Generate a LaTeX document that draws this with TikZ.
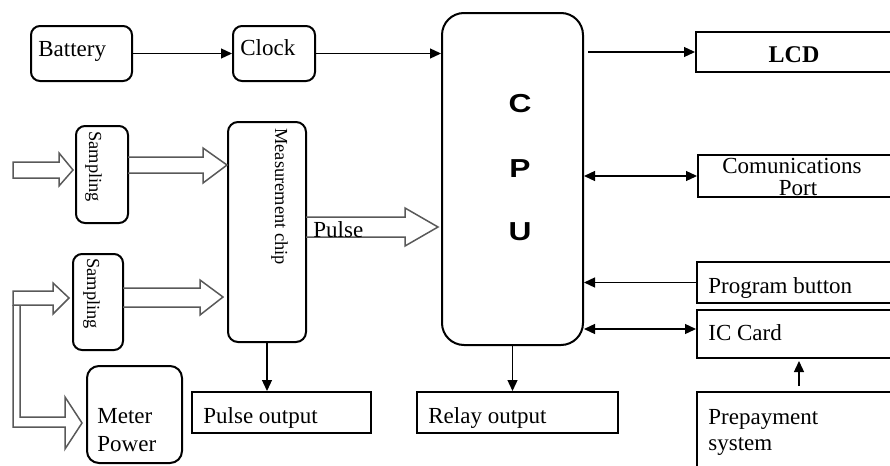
\documentclass[tikz,border=0pt]{standalone}
\usepackage{fontspec}
\setmainfont{Liberation Serif}
\newfontfamily\cpufont{Liberation Sans}
\usetikzlibrary{arrows.meta,fit,calc}
\begin{document}
\begin{tikzpicture}[x=0.5pt,y=-0.5pt,
  box/.style={draw=black,line width=1pt,inner sep=0pt},
  rbox/.style={box,rounded corners=4.5pt},
  lbl/.style={anchor=base west,inner sep=0pt,font=\fontsize{11.5}{13}\selectfont},
  vlbl/.style={anchor=base west,inner sep=0pt,rotate=-90,font=\fontsize{9.2}{11}\selectfont},
  cpuletter/.style={inner sep=0pt,xscale=1.22,font=\cpufont\bfseries\fontsize{13}{15}\selectfont},
  arr/.style={line width=0.65pt,-{Triangle[length=5.5pt,width=5pt]}},
  darr/.style={line width=0.65pt,{Triangle[length=5.5pt,width=5pt]}-{Triangle[length=5.5pt,width=5pt]}},
  hollow/.style={draw=black!65,line width=0.75pt,line join=miter},
]
\useasboundingbox (0,0) rectangle (890,466);
\clip (0,0) rectangle (890,466);

% ---- boxes ----
\node[rbox,fit={(31,26) (132,81)}] (battery) {};
\node[rbox,fit={(233,26) (315,81)}] (clock) {};
\node[rbox,rounded corners=11pt,fit={(442,13) (583,345)}] (cpu) {};
\node[rbox,fit={(76,126) (128,223)}] (samp1) {};
\node[rbox,fit={(73,254) (123,350)}] (samp2) {};
\node[rbox,rounded corners=5pt,fit={(228,122) (306,342)}] (mc) {};
\node[rbox,rounded corners=6pt,fit={(87,366) (182,463)}] (power) {};
\node[box,fit={(192,392) (371,433)}] (pout) {};
\node[box,fit={(417,392) (618,433)}] (relay) {};
\node[box,fit={(696,32) (900,72)}] (lcd) {};
\node[box,fit={(698,155) (900,197)}] (comm) {};
\node[box,fit={(697,262) (900,303)}] (prog) {};
\node[box,fit={(697,310) (900,358)}] (icc) {};
\node[box,fit={(697,392) (900,480)}] (prep) {};

% ---- texts ----
\node[lbl] (tbattery) at (38,56) {Battery};
\node[lbl] (tclock) at (240,55) {Clock};
\node[cpuletter] (tc) at (520,104) {C};
\node[cpuletter] (tp) at (520,169) {P};
\node[cpuletter] (tu) at (520,232) {U};
\node[anchor=base,inner sep=0pt,font=\fontsize{12}{14}\selectfont\bfseries] (tlcd) at (794,62) {LCD};
\node[lbl] (tcomm1) at (722,173) {Comunications};
\node[anchor=base,inner sep=0pt,font=\fontsize{11.5}{13}\selectfont] (tcomm2) at (798,195) {Port};
\node[lbl] (tprog) at (708,293) {Program button};
\node[lbl] (ticc) at (708,340) {IC Card};
\node[lbl] (tprep1) at (708,424) {Prepayment};
\node[lbl] (tprep2) at (708,450) {system};
\node[lbl] (trelay) at (428,423) {Relay output};
\node[lbl] (tpout) at (203,423) {Pulse output};
\node[lbl] (tmeter) at (97,423) {Meter};
\node[lbl] (tpower) at (97,451) {Power};
\node[vlbl] (ts1) at (89,131) {Sampling};
\node[vlbl] (ts2) at (87,258) {Sampling};
\node[vlbl] (tmc) at (275,128) {Measurement chip};

% ---- hollow signal arrows ----
\draw[hollow] (13,162) -- (59,162) -- (59,153) -- (73,170) -- (59,186) -- (59,178) -- (13,178) -- cycle;
\draw[hollow] (128,157) -- (203,157) -- (203,148) -- (227,165) -- (203,183) -- (203,173) -- (128,173);
\draw[hollow] (123,288) -- (200,288) -- (200,280) -- (223,297) -- (200,315) -- (200,307) -- (123,307);
\draw[hollow] (306,217) -- (405,217) -- (405,208) -- (438,227) -- (405,246) -- (405,237) -- (306,237);
\draw[hollow] (13,291) -- (53,291) -- (53,283) -- (69,298) -- (53,314) -- (53,305) -- (13,305) -- cycle;
\draw[hollow] (13,305) -- (13,427) -- (65,427) -- (65,449) -- (82,423) -- (65,397) -- (65,417) -- (20,417) -- (20,305);
\node[lbl] (tpulse) at (313,237) {Pulse};

% ---- connectors ----
\draw[arr] (battery) -- (clock);
\draw[arr] (clock.east) -- (clock.east -| cpu.west);
\draw[arr,shorten <=2pt] (lcd.west -| cpu.east) -- (lcd.west);
\draw[darr] (comm.west -| cpu.east) -- (comm.west);
\draw[arr] (prog.west) -- (prog.west -| cpu.east);
\draw[darr] ([yshift=2.5pt]icc.west -| cpu.east) -- ([yshift=2.5pt]icc.west);
\draw[arr,shorten <=2.5pt,shorten >=1pt] ([xshift=51.5pt]prep.north west) -- ([xshift=51.5pt]icc.south west);
\draw[arr] (cpu.south) -- (cpu.south |- relay.north);
\draw[arr] (mc.south) -- (mc.south |- pout.north);
\end{tikzpicture}
\end{document}
